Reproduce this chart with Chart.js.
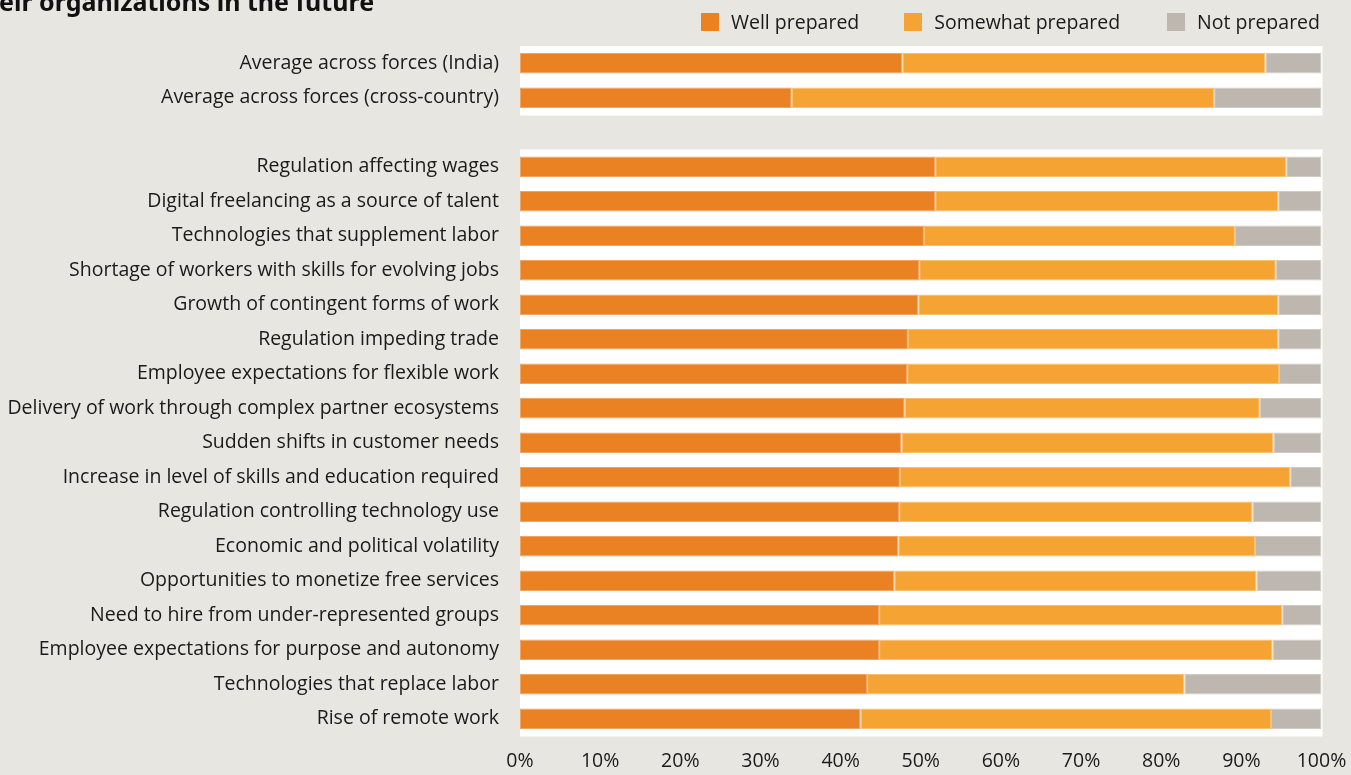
<!DOCTYPE html>
<html>
<head>
<meta charset="utf-8">
<script src="https://cdn.jsdelivr.net/npm/chart.js@4/dist/chart.umd.min.js"></script>
<style>
  html, body { margin: 0; padding: 0; background: #e8e6e1; overflow: hidden; }
  #wrap { position: relative; width: 1351px; height: 775px; }
  #title {
    position: absolute; left: -1px; top: -11px;
    font: bold 25px "Noto Sans", sans-serif; color: #111; white-space: nowrap; line-height: 25px;
  }
  #legend {
    position: absolute; right: 31px; top: 12px;
    display: flex; font: 19.5px "Open Sans", sans-serif; color: #1a1a1a; line-height: 20px;
  }
  #legend .item { display: flex; align-items: center; }
  #legend .box { width: 18px; height: 18px; margin-right: 12px; }
</style>
</head>
<body>
<div id="wrap">
  <canvas id="chart" width="1351" height="775"></canvas>
  <div id="title">eir organizations in the future</div>
  <div id="legend"></div>
</div>
<script>
const categories = [
  'Average across forces (India)',
  'Average across forces (cross-country)',
  '',
  'Regulation affecting wages',
  'Digital freelancing as a source of talent',
  'Technologies that supplement labor',
  'Shortage of workers with skills for evolving jobs',
  'Growth of contingent forms of work',
  'Regulation impeding trade',
  'Employee expectations for flexible work',
  'Delivery of work through complex partner ecosystems',
  'Sudden shifts in customer needs',
  'Increase in level of skills and education required',
  'Regulation controlling technology use',
  'Economic and political volatility',
  'Opportunities to monetize free services',
  'Need to hire from under-represented groups',
  'Employee expectations for purpose and autonomy',
  'Technologies that replace labor',
  'Rise of remote work'
];

const wellPrepared =     [47.7, 33.9, null, 51.8, 51.8, 50.4, 49.8, 49.7, 48.4, 48.3, 48.0, 47.6, 47.4, 47.3, 47.2, 46.7, 44.8, 44.8, 43.3, 42.5];
const somewhatPrepared = [45.3, 52.7, null, 43.8, 42.8, 38.8, 44.5, 44.9, 46.2, 46.4, 44.3, 46.4, 48.7, 44.1, 44.5, 45.2, 50.3, 49.1, 39.6, 51.2];
const notPrepared =      [ 7.0, 13.4, null,  4.4,  5.4, 10.8,  5.7,  5.4,  5.4,  5.3,  7.7,  6.0,  3.9,  8.6,  8.3,  8.1,  4.9,  6.1, 17.1,  6.3];

const xTicks = [0, 10, 20, 30, 40, 50, 60, 70, 80, 90, 100];

const seriesNames = ['Well prepared', 'Somewhat prepared', 'Not prepared'];
const colors = ['#ea8223', '#f5a332', '#bdb7b0'];
const edges = ['#f2a463', '#f9c06e', '#cfcac4'];
const legendGaps = [0, 45, 47];

// white bands behind every real category
const bandPlugin = {
  id: 'bands',
  beforeDatasetsDraw(chart) {
    const { ctx, chartArea } = chart;
    const y = chart.scales.y;
    const half = (y.getPixelForValue(1) - y.getPixelForValue(0)) / 2;
    ctx.save();
    ctx.fillStyle = '#ffffff';
    categories.forEach((c, i) => {
      if (!c) return;
      const py = y.getPixelForValue(i);
      ctx.fillRect(chartArea.left, py - half, chartArea.right - chartArea.left + 1, half * 2 + 0.5);
    });
    ctx.restore();
  }
};

const legend = document.getElementById('legend');
seriesNames.forEach((name, i) => {
  const item = document.createElement('div');
  item.className = 'item';
  item.style.marginLeft = legendGaps[i] + 'px';
  const box = document.createElement('div');
  box.className = 'box';
  box.style.background = colors[i];
  const txt = document.createElement('span');
  txt.textContent = name;
  item.appendChild(box);
  item.appendChild(txt);
  legend.appendChild(item);
});

new Chart(document.getElementById('chart'), {
  type: 'bar',
  data: {
    labels: categories,
    datasets: [wellPrepared, somewhatPrepared, notPrepared].map((d, i) => ({
      label: seriesNames[i],
      data: d,
      backgroundColor: colors[i],
      borderColor: edges[i],
      borderWidth: 1,
      borderSkipped: false,
      barPercentage: 0.6,
      categoryPercentage: 1
    }))
  },
  options: {
    indexAxis: 'y',
    responsive: false,
    animation: false,
    layout: { padding: { left: 0, right: 29.5, top: 46, bottom: 0 } },
    plugins: { legend: { display: false }, tooltip: { enabled: false } },
    scales: {
      x: {
        stacked: true,
        min: 0,
        max: 100,
        afterBuildTicks(scale) { scale.ticks = xTicks.map(v => ({ value: v })); },
        grid: { display: false, drawTicks: false },
        border: { display: false },
        ticks: {
          padding: 14,
          color: '#1a1a1a',
          font: { family: 'Open Sans', size: 19.5 },
          maxRotation: 0,
          callback: v => v + '%'
        },
        afterFit(scale) {
          scale.height = 39;
          scale.paddingLeft = 0;
          scale.paddingRight = 0;
        }
      },
      y: {
        stacked: true,
        grid: { display: false, drawTicks: false },
        border: { display: false },
        ticks: {
          padding: 21,
          color: '#1a1a1a',
          font: { family: 'Open Sans', size: 19.5 },
          autoSkip: false
        },
        afterFit(scale) {
          scale.width = 520;
          scale.paddingTop = 0;
          scale.paddingBottom = 0;
        }
      }
    }
  },
  plugins: [bandPlugin]
});
</script>
</body>
</html>
